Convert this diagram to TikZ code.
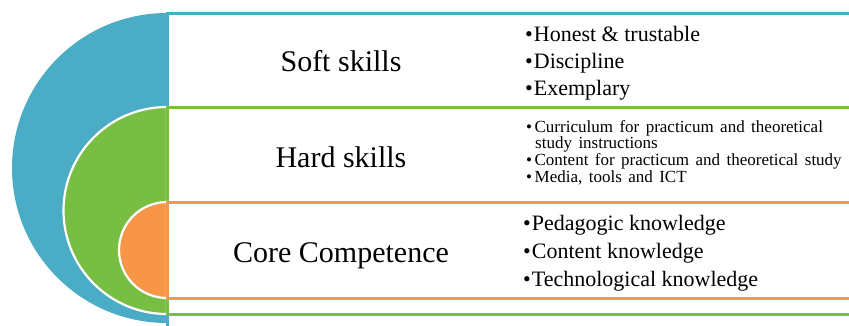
\documentclass[tikz,border=0pt]{standalone}
\usepackage{fontspec}
\setmainfont{Liberation Serif}
\definecolor{skblue}{HTML}{4BACC6}
\definecolor{skgreen}{HTML}{78BE43}
\definecolor{skorange}{HTML}{F79646}
\newcommand\widegaps{\spaceskip 0.38em plus 0.1em\relax}
\tikzset{
    title/.style={anchor=base, inner sep=0pt, font=\fontsize{30}{36}\selectfont},
    bigitem/.style={anchor=base west, inner sep=0pt, font=\fontsize{22}{26}\selectfont},
    smallitem/.style={anchor=base west, inner sep=0pt, font=\fontsize{17}{20}\selectfont\widegaps},
    band/.style={fill=white, line width=3pt},
    halfdisc/.style={draw=white, line width=2.2pt}
}
\begin{document}
\begin{tikzpicture}[x=1pt, y=-1pt]
    \useasboundingbox (0,0) rectangle (849,325);
    \clip (0,0) rectangle (849,325);
    \fill[skblue] (167,13) arc[start angle=-90, end angle=-270, radius=155] -- cycle;
    \draw[band, draw=skblue] (167,13) rectangle (880,340);
    \filldraw[halfdisc, fill=skgreen] (167,107) arc[start angle=-90, end angle=-270, radius=103.5] -- cycle;
    \draw[band, draw=skgreen] (167,107) rectangle (880,314);
    \filldraw[halfdisc, fill=skorange] (167,202) arc[start angle=-90, end angle=-270, radius=48] -- cycle;
    \draw[band, draw=skorange] (167,202) rectangle (880,298);
    \node[title] (soft) at (341,71) {Soft skills};
    \node[title] (hard) at (341,167) {Hard skills};
    \node[title] (core) at (341,262) {Core Competence};
    \node[bigitem] (soft1) at (525,41) {\textbullet\hspace{1pt}Honest \& trustable};
    \node[bigitem] (soft2) at (525,68) {\textbullet\hspace{1pt}Discipline};
    \node[bigitem] (soft3) at (525,95) {\textbullet\hspace{1pt}Exemplary};
    \node[smallitem] (hard1) at (526,132) {\textbullet\hspace{2.5pt}Curriculum for practicum and theoretical};
    \node[smallitem] (hard2) at (535,148) {study instructions};
    \node[smallitem] (hard3) at (526,165) {\textbullet\hspace{2.5pt}Content for practicum and theoretical study};
    \node[smallitem] (hard4) at (526,182) {\textbullet\hspace{2.5pt}Media, tools and ICT};
    \node[bigitem] (core1) at (523,230) {\textbullet\hspace{1pt}Pedagogic knowledge};
    \node[bigitem] (core2) at (523,258) {\textbullet\hspace{1pt}Content knowledge};
    \node[bigitem] (core3) at (523,286) {\textbullet\hspace{1pt}Technological knowledge};
\end{tikzpicture}
\end{document}
